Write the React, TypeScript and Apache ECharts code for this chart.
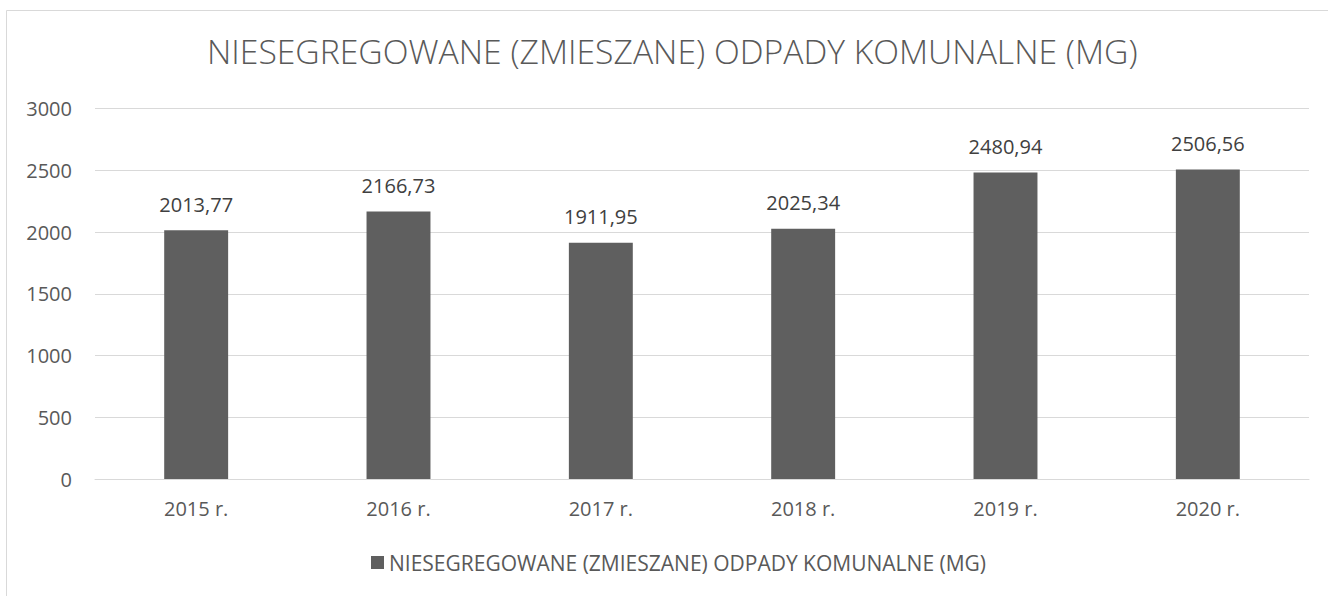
import React, { useEffect, useRef } from "react";
import * as echarts from "echarts";

const categories = ["2015 r.", "2016 r.", "2017 r.", "2018 r.", "2019 r.", "2020 r."];
const values = [2013.77, 2166.73, 1911.95, 2025.34, 2480.94, 2506.56];
const yTicks = [0, 500, 1000, 1500, 2000, 2500, 3000];
const seriesName = "NIESEGREGOWANE (ZMIESZANE) ODPADY KOMUNALNE (MG)";
const titleText = "NIESEGREGOWANE (ZMIESZANE) ODPADY KOMUNALNE (MG)";

const FONT = "'Open Sans', 'Noto Sans', sans-serif";

export default function App() {
  const ref = useRef<HTMLDivElement>(null);
  useEffect(() => {
    if (!ref.current) return;
    const chart = echarts.init(ref.current, undefined, { renderer: "svg" });
    chart.setOption({
      animation: false,
      backgroundColor: "#ffffff",
      graphic: [
        {
          type: "rect",
          shape: { x: 6.5, y: 10.5, width: 1340, height: 620 },
          style: { fill: "none", stroke: "#d9d9d9", lineWidth: 1 },
          silent: true,
          z: -1,
        },
      ],
      title: {
        text: titleText,
        left: 202,
        top: 29,
        textStyle: {
          fontFamily: FONT,
          fontSize: 33.7,
          fontWeight: 300,
          color: "#595959",
        },
      },
      legend: {
        bottom: 18,
        left: 366,
        itemWidth: 13,
        itemHeight: 13,
        itemGap: 8,
        icon: "rect",
        textStyle: { fontFamily: FONT, fontSize: 21, color: "#595959" },
        data: [seriesName],
      },
      grid: { left: 95, right: 19, top: 108.5, bottom: 117, containLabel: false },
      xAxis: {
        type: "category",
        data: categories,
        axisLine: { show: true, lineStyle: { color: "#d9d9d9", width: 1 } },
        axisTick: { show: false },
        axisLabel: { fontFamily: FONT, fontSize: 20, color: "#595959", margin: 19 },
      },
      yAxis: {
        type: "value",
        min: yTicks[0],
        max: yTicks[yTicks.length - 1],
        interval: yTicks[1] - yTicks[0],
        axisLine: { show: false },
        axisTick: { show: false },
        splitLine: { lineStyle: { color: "#d9d9d9", width: 1 } },
        axisLabel: {
          fontFamily: FONT,
          fontSize: 20,
          color: "#595959",
          margin: 23,
          formatter: (v: number) => String(v),
        },
      },
      series: [
        {
          name: seriesName,
          type: "bar",
          data: values,
          barWidth: "31.6%",
          itemStyle: { color: "#5f5f5f" },
          label: {
            show: true,
            position: "top",
            distance: 16,
            fontFamily: FONT,
            fontSize: 20,
            color: "#404040",
            formatter: (p: any) => Number(p.value).toFixed(2).replace(".", ","),
          },
        },
      ],
    });
    return () => chart.dispose();
  }, []);
  return (
    <div
      ref={ref}
      style={{ position: "fixed", left: 0, top: 0, width: 1328, height: 596 }}
    />
  );
}
